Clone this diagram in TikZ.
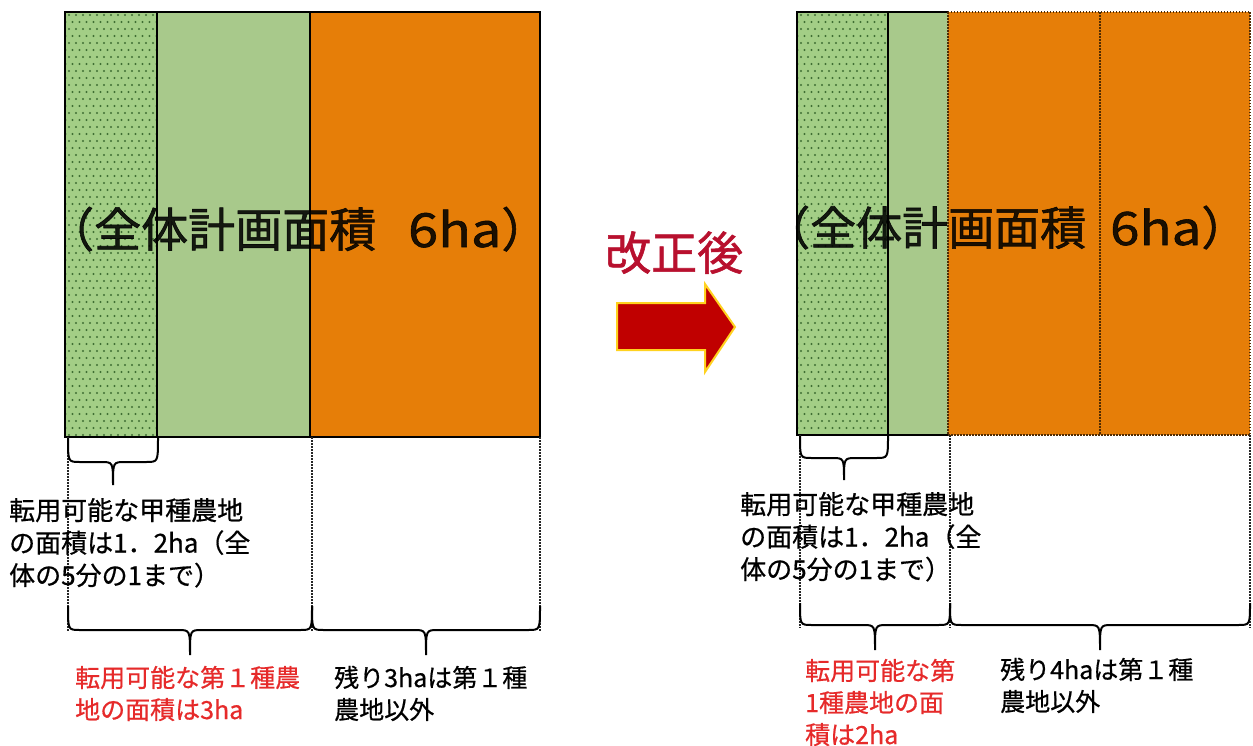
\documentclass[tikz,border=0pt]{standalone}
\usepackage{fontspec}
\setmainfont{Noto Sans CJK JP}
\newfontfamily\jpheavy{Noto Sans CJK JP}[FakeBold=1.2]
\newfontfamily\jpmed{Noto Sans CJK JP}[FakeBold=0.6]
\definecolor{lgreen}{HTML}{A8C98B}
\definecolor{sgreen}{HTML}{A3CE86}
\definecolor{dotgreen}{HTML}{3F6E33}
\definecolor{orng}{HTML}{E67E08}
\definecolor{arrowred}{HTML}{C00000}
\definecolor{arrowedge}{HTML}{FFD21F}
\definecolor{titlered}{HTML}{B8102E}
\definecolor{txtred}{HTML}{E62A2A}
\newcommand{\curlybrace}[6]{% name, x1, x2, ytop, ymid, ytip
  \coordinate (#1-l) at (#2,#4);
  \coordinate (#1-r) at (#3,#4);
  \coordinate (#1-t) at ({(#2+#3)/2},#6);
  \draw[bracestyle] (#1-l) .. controls (#2,#5) .. ({#2+12},#5)
    -- ({(#2+#3)/2-12},#5) .. controls ({(#2+#3)/2},#5) .. (#1-t)
    .. controls ({(#2+#3)/2},#5) .. ({(#2+#3)/2+12},#5)
    -- ({#3-12},#5) .. controls (#3,#5) .. (#1-r);}
\newcommand{\titletext}[1]{（全体計画面積\hspace{#1}\scalebox{1.15}[1]{6ha}）}
\begin{document}
\begin{tikzpicture}[x=1pt,y=-1pt,
  bracestyle/.style={draw=black, line width=2pt},
  guide/.style={draw=black!85, line width=1.5pt, dash pattern=on 1.5pt off 1.5pt},
  frame/.style={draw=black, line width=2pt},
  dotframe/.style={draw=black!65!orng, line width=2pt, dash pattern=on 1.5pt off 1.5pt},
  bigtxt/.style={font=\jpheavy\fontsize{47}{54}\selectfont, anchor=base west, inner sep=0pt, text opacity=0.88},
  smalltxt/.style={font=\jpmed\fontsize{26}{32.5}\selectfont, align=left, anchor=base west, inner sep=0pt},
  redtxt/.style={smalltxt, text=txtred, font=\jpmed\fontsize{25}{32}\selectfont},
  blacktxt/.style={smalltxt, font=\jpmed\fontsize{25}{32}\selectfont}]
\useasboundingbox (0,0) rectangle (1253,745);
\fill[white] (0,0) rectangle (1253,745);

% ---------------- left panel ----------------
\fill[sgreen] (65,12) rectangle (157,437);
\begin{scope}
  \clip (65,12) rectangle (157,437);
  \foreach \i in {0,...,61}{
    \foreach \j in {0,...,13}{
      \pgfmathsetmacro{\xx}{62+7*\j+3.5*mod(\i,2)}
      \pgfmathsetmacro{\yy}{15+7*\i}
      \fill[dotgreen] (\xx,\yy) circle (1.2);
    }
  }
\end{scope}
\fill[lgreen] (157,12) rectangle (310,437);
\fill[orng] (310,12) rectangle (540,437);
\node[bigtxt] (ltitle) at (47,247) {\titletext{32pt}};
\draw[frame] (65,12) rectangle (540,437);
\draw[frame] (157,12) -- (157,437);
\draw[frame] (310,12) -- (310,437);

\coordinate (lg1a) at (68,437); \coordinate (lg1b) at (68,632);
\coordinate (lg2a) at (312,437); \coordinate (lg2b) at (312,632);
\coordinate (lg3a) at (540,437); \coordinate (lg3b) at (540,632);
\draw[guide] (lg1a) -- (lg1b);
\draw[guide] (lg2a) -- (lg2b);
\draw[guide] (lg3a) -- (lg3b);

\curlybrace{lbs}{68}{158}{438}{462}{485}
\curlybrace{lbl}{68}{312}{606}{630}{655}
\curlybrace{lbr}{312}{540}{606}{630}{655}

\node[smalltxt] (lnote) at (9,585) {転用可能な甲種農地\\の面積は1．2ha（全\\体の5分の1まで）};
\node[redtxt] (lred) at (75,719) {転用可能な第１種農\\地の面積は3ha};
\node[blacktxt] (lrest) at (334,719) {残り3haは第１種\\農地以外};

% ---------------- arrow ----------------
\node[font=\jpheavy\fontsize{46}{52}\selectfont, text=titlered, anchor=base west, inner sep=0pt] (after) at (605,270) {改正後};
\draw[fill=arrowred, draw=arrowedge, line width=2pt, line join=miter]
  (617,303) -- (705,303) -- (705,284) -- (735,327) -- (705,372) -- (705,350) -- (617,350) -- cycle;

% ---------------- right panel ----------------
\fill[sgreen] (797,12) rectangle (888,435);
\begin{scope}
  \clip (797,12) rectangle (888,435);
  \foreach \i in {0,...,61}{
    \foreach \j in {0,...,13}{
      \pgfmathsetmacro{\xx}{794+7*\j+3.5*mod(\i,2)}
      \pgfmathsetmacro{\yy}{15+7*\i}
      \fill[dotgreen] (\xx,\yy) circle (1.2);
    }
  }
\end{scope}
\fill[lgreen] (888,12) rectangle (948,435);
\fill[orng] (948,12) rectangle (1250,435);
\node[bigtxt, font=\jpheavy\fontsize{46}{54}\selectfont] (rtitle) at (764,245) {\titletext{24pt}};
\draw[frame] (797,12) rectangle (888,435);
\draw[frame] (888,12) -- (948,12);
\draw[frame] (888,435) -- (948,435);
\draw[dotframe] (948,12) rectangle (1250,435);
\draw[dotframe] (1100,12) -- (1100,435);

\coordinate (rg1a) at (800,435); \coordinate (rg1b) at (800,628);
\coordinate (rg2a) at (950,435); \coordinate (rg2b) at (950,628);
\coordinate (rg3a) at (1250,435); \coordinate (rg3b) at (1250,628);
\draw[guide] (rg1a) -- (rg1b);
\draw[guide] (rg2a) -- (rg2b);
\draw[guide] (rg3a) -- (rg3b);

\curlybrace{rbs}{800}{888}{436}{458}{480}
\curlybrace{rbl}{800}{950}{603}{625}{650}
\curlybrace{rbr}{950}{1250}{603}{625}{650}

\node[smalltxt] (rnote) at (740,579) {転用可能な甲種農地\\の面積は1．2ha（全\\体の5分の1まで）};
\node[redtxt] (rred) at (805,744) {転用可能な第\\1種農地の面\\積は2ha};
\node[blacktxt] (rrest) at (1000,711) {残り4haは第１種\\農地以外};
\end{tikzpicture}
\end{document}
